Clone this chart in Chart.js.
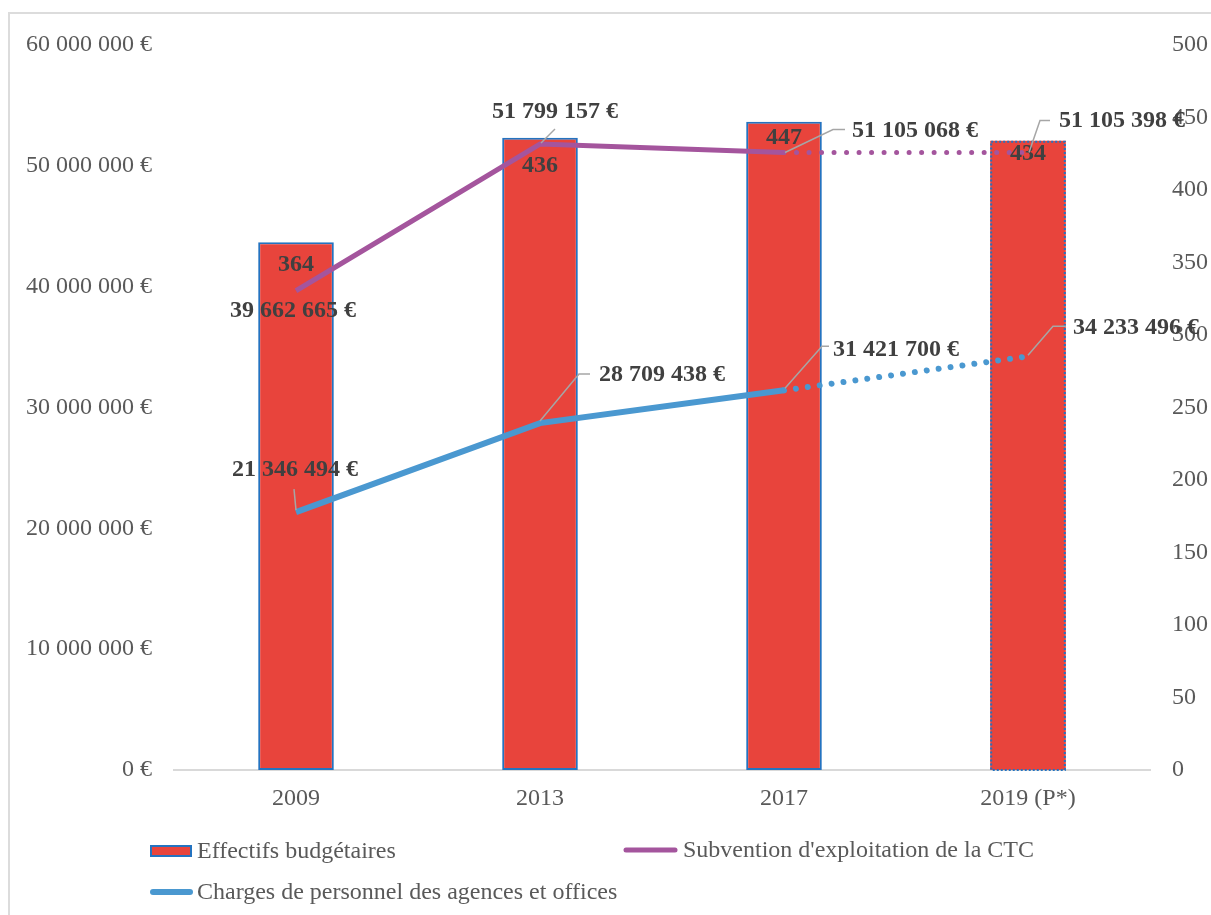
<!DOCTYPE html>
<html><head><meta charset="utf-8">
<script src="https://cdn.jsdelivr.net/npm/chart.js@4/dist/chart.umd.min.js"></script>
<style>
html,body{margin:0;padding:0;background:#fff;overflow:hidden}
#wrap{position:relative;width:1211px;height:915px}
#frame{position:absolute;left:8px;top:12px;width:1230px;height:930px;border:2px solid #dcdcdc;box-sizing:border-box}
canvas{position:absolute;left:0;top:0}
</style></head><body>
<div id="wrap"><div id="frame"></div><canvas id="c" width="1211" height="915"></canvas></div>
<script>
// Categories and series
const years = ['2009', '2013', '2017', '2019 (P*)'];
const effectifs = [364, 436, 447, 434];
const subvention = [39662665, 51799157, 51105068, 51105398];
const charges = [21346494, 28709438, 31421700, 34233496];

// Axis ranges
const euroMax = 60000000, euroStep = 10000000;
const staffMax = 500, staffStep = 50;

const FONT = '"Liberation Serif", "Times New Roman", serif';
const FS = 24;
const GREY = '#595959';
const LABEL = '#404040';
const RED = '#E8443C';
const BAR_EDGE = '#2473C0';
const PURPLE = '#A4559D';
const BLUE = '#4A98D0';
const LEADER = '#A6A6A6';

const fmt = n => String(n).replace(/\B(?=(\d{3})+(?!\d))/g, ' ');
const euro = n => fmt(n) + ' €';

// Data label placement relative to each point (dx, dy), with optional leader polyline
const barLabelDy = [23, 28, 16, 13];
const subLabels = [
  { dx: -3, dy: 20, align: 'center', leader: null },
  { dx: 15, dy: -32, align: 'center', leader: [[1, -1], [15, -15]] },
  { dx: 68, dy: -22, align: 'left', leader: [[1, 0], [49, -23], [61, -23]] },
  { dx: 31, dy: -32, align: 'left', leader: [[1, 0], [12, -32], [22, -32]] }
];
const chgLabels = [
  { dx: -1, dy: -42, align: 'center', leader: [[-2, -23], [0, -2]] },
  { dx: 59, dy: -48, align: 'left', leader: [[0, -2], [39, -49], [50, -49]] },
  { dx: 49, dy: -41, align: 'left', leader: [[1, -2], [38, -44], [45, -44]] },
  { dx: 45, dy: -29, align: 'left', leader: [[0, -1], [25, -30], [38, -30]] }
];

const dottedLast = (on, off) => ctx => ctx.p0DataIndex === 2 ? on : off;

// Dotted outline for the projected (2019) bar
const projectedBar = {
  id: 'projectedBar',
  afterDatasetDraw(chart, args) {
    if (args.index !== 0) return;
    const el = args.meta.data[3];
    const ctx = chart.ctx;
    const w = el.width;
    const left = el.x - w / 2, top = el.y, bottom = el.base;
    ctx.save();
    ctx.strokeStyle = BAR_EDGE;
    ctx.lineWidth = 2;
    ctx.setLineDash([2, 2]);
    ctx.strokeRect(left + 1, top + 1, w - 2, bottom - top - 1);
    ctx.restore();
  }
};

// Value labels with leader lines
const valueLabels = {
  id: 'valueLabels',
  afterDatasetsDraw(chart) {
    const ctx = chart.ctx;
    ctx.save();
    ctx.font = 'bold ' + FS + 'px ' + FONT;
    ctx.fillStyle = LABEL;
    ctx.textBaseline = 'middle';

    const bars = chart.getDatasetMeta(0).data;
    bars.forEach((el, i) => {
      ctx.textAlign = 'center';
      ctx.fillText(String(effectifs[i]), el.x, el.y + barLabelDy[i]);
    });

    const drawSeries = (metaIndex, values, layout) => {
      const pts = chart.getDatasetMeta(metaIndex).data;
      pts.forEach((p, i) => {
        const L = layout[i];
        if (L.leader) {
          ctx.save();
          ctx.strokeStyle = LEADER;
          ctx.lineWidth = 1.5;
          ctx.beginPath();
          L.leader.forEach(([dx, dy], k) => {
            if (k === 0) ctx.moveTo(p.x + dx, p.y + dy); else ctx.lineTo(p.x + dx, p.y + dy);
          });
          ctx.stroke();
          ctx.restore();
        }
        ctx.textAlign = L.align;
        ctx.fillText(euro(values[i]), p.x + L.dx, p.y + L.dy);
      });
    };
    drawSeries(1, subvention, subLabels);
    drawSeries(2, charges, chgLabels);
    ctx.restore();
  }
};

// Legend laid out in two columns
const legendItems = [
  { text: 'Effectifs budgétaires', kind: 'bar', color: RED, x: 150, y: 851, textX: 197 },
  { text: "Subvention d'exploitation de la CTC", kind: 'line', color: PURPLE, width: 5, x: 623, len: 55, y: 850, textX: 683 },
  { text: 'Charges de personnel des agences et offices', kind: 'line', color: BLUE, width: 6, x: 150, len: 43, y: 892, textX: 197 }
];
const customLegend = {
  id: 'customLegend',
  afterDraw(chart) {
    const ctx = chart.ctx;
    ctx.save();
    ctx.font = FS + 'px ' + FONT;
    ctx.textBaseline = 'middle';
    ctx.textAlign = 'left';
    legendItems.forEach(it => {
      if (it.kind === 'bar') {
        ctx.fillStyle = it.color;
        ctx.fillRect(it.x, it.y - 6, 42, 12);
        ctx.strokeStyle = BAR_EDGE;
        ctx.lineWidth = 2;
        ctx.strokeRect(it.x + 1, it.y - 5, 40, 10);
      } else {
        ctx.strokeStyle = it.color;
        ctx.lineWidth = it.width;
        ctx.lineCap = 'round';
        ctx.beginPath();
        ctx.moveTo(it.x + 3, it.y);
        ctx.lineTo(it.x + it.len - 3, it.y);
        ctx.stroke();
      }
      ctx.fillStyle = GREY;
      ctx.fillText(it.text, it.textX, it.y + 1);
    });
    ctx.restore();
  }
};

new Chart(document.getElementById('c'), {
  type: 'bar',
  data: {
    labels: years,
    datasets: [
      {
        type: 'bar',
        label: 'Effectifs budgétaires',
        data: effectifs,
        yAxisID: 'y1',
        backgroundColor: RED,
        borderColor: BAR_EDGE,
        borderWidth: [2, 2, 2, 0],
        borderSkipped: false,
        barPercentage: 0.31,
        categoryPercentage: 1,
        order: 3
      },
      {
        type: 'line',
        label: "Subvention d'exploitation de la CTC",
        data: subvention,
        yAxisID: 'y',
        borderColor: PURPLE,
        borderWidth: 5,
        pointRadius: 0,
        tension: 0,
        order: 2,
        segment: {
          borderDash: dottedLast([0.01, 12.5], undefined),
          borderCapStyle: dottedLast('round', undefined)
        }
      },
      {
        type: 'line',
        label: 'Charges de personnel des agences et offices',
        data: charges,
        yAxisID: 'y',
        borderColor: BLUE,
        borderWidth: 6,
        pointRadius: 0,
        tension: 0,
        order: 1,
        segment: {
          borderDash: dottedLast([0.01, 12], undefined),
          borderCapStyle: dottedLast('round', undefined)
        }
      }
    ]
  },
  options: {
    responsive: false,
    animation: false,
    events: [],
    layout: { padding: { top: 45, bottom: 0, left: 0, right: 0 } },
    plugins: { legend: { display: false }, tooltip: { enabled: false } },
    scales: {
      x: {
        offset: true,
        grid: { display: false, drawTicks: false },
        border: { display: true, color: '#D9D9D9', width: 2 },
        ticks: { color: GREY, font: { family: FONT, size: FS }, padding: 14, maxRotation: 0 },
        afterFit(s) { s.height = 145; }
      },
      y: {
        position: 'left',
        min: 0, max: euroMax,
        grid: { display: false, drawTicks: false },
        border: { display: false },
        ticks: { stepSize: euroStep, color: GREY, font: { family: FONT, size: FS }, padding: 22, callback: v => euro(v) },
        afterFit(s) { s.width = 174; }
      },
      y1: {
        position: 'right',
        min: 0, max: staffMax,
        grid: { display: false, drawTicks: false },
        border: { display: false },
        ticks: { stepSize: staffStep, color: GREY, font: { family: FONT, size: FS }, padding: 22 },
        afterFit(s) { s.width = 61; }
      }
    }
  },
  plugins: [projectedBar, valueLabels, customLegend]
});
</script>
</body></html>
